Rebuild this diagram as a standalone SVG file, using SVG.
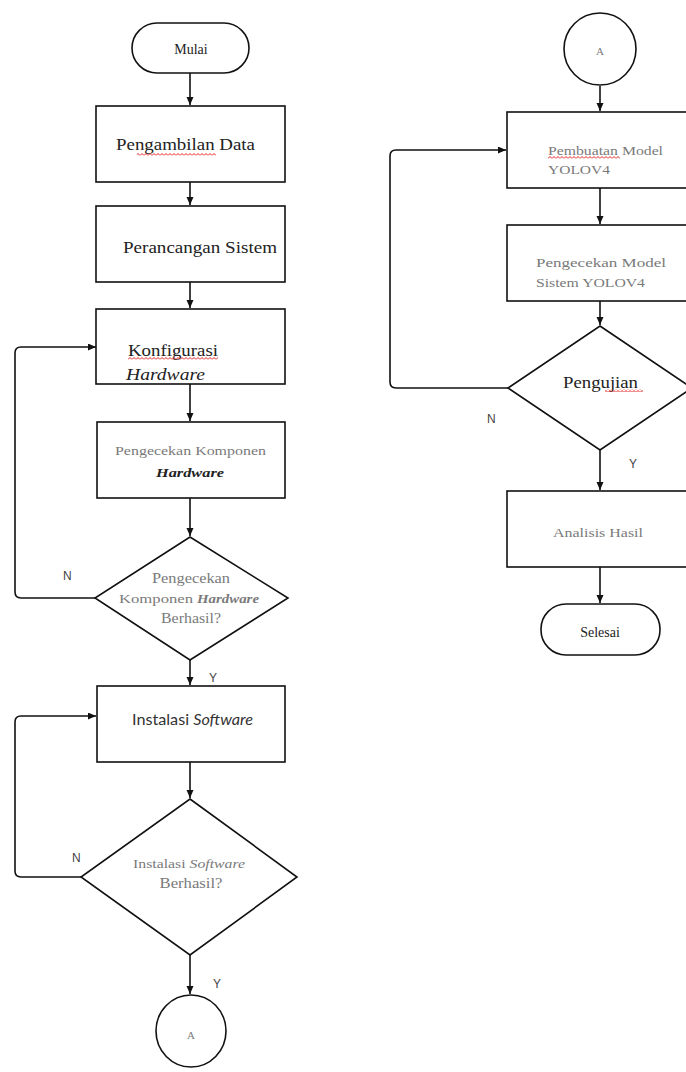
<svg xmlns="http://www.w3.org/2000/svg" width="686" height="1072" viewBox="0 0 686 1072">
<style>
.shape{fill:#fff;stroke:#111;stroke-width:1.6}
.conn{fill:none;stroke:#111;stroke-width:1.6}
.t{font-family:"Liberation Serif",serif;fill:#222}
.g{font-family:"Liberation Serif",serif;fill:#7a7a7a}
.s{font-family:"Lato","Liberation Sans",sans-serif;fill:#333}
.lbl{font-family:"Liberation Sans",sans-serif;font-size:12px;fill:#444}
</style>
<defs>
<marker id="ah" markerUnits="userSpaceOnUse" markerWidth="9" markerHeight="8" refX="8" refY="3.5" orient="auto">
<path d="M0,0 L8,3.5 L0,7 z" fill="#111"/>
</marker>
<pattern id="sq" width="4" height="3" patternUnits="userSpaceOnUse">
<path d="M0,2.5 L2,0.5 L4,2.5" fill="none" stroke="#e02020" stroke-width="1"/>
</pattern>
</defs>

<g id="connectors">
<path class="conn" d="M190,73 V105" marker-end="url(#ah)"/>
<path class="conn" d="M190,182 V205" marker-end="url(#ah)"/>
<path class="conn" d="M190,282 V308" marker-end="url(#ah)"/>
<path class="conn" d="M190,384 V421" marker-end="url(#ah)"/>
<path class="conn" d="M190,498 V536" marker-end="url(#ah)"/>
<path class="conn" d="M95,598 H21 Q15,598 15,592 V353 Q15,347 21,347 H96" marker-end="url(#ah)"/>
<path class="conn" d="M190,660 V685" marker-end="url(#ah)"/>
<path class="conn" d="M190,762 V798" marker-end="url(#ah)"/>
<path class="conn" d="M81,877 H21 Q15,877 15,871 V722 Q15,716 21,716 H96" marker-end="url(#ah)"/>
<path class="conn" d="M190,955 V994" marker-end="url(#ah)"/>
<path class="conn" d="M600,86 V111" marker-end="url(#ah)"/>
<path class="conn" d="M600,188 V224" marker-end="url(#ah)"/>
<path class="conn" d="M600,301 V325" marker-end="url(#ah)"/>
<path class="conn" d="M508,388 H396 Q390,388 390,382 V156 Q390,150 396,150 H506" marker-end="url(#ah)"/>
<path class="conn" d="M600,450 V490" marker-end="url(#ah)"/>
<path class="conn" d="M600,567 V603" marker-end="url(#ah)"/>
<text class="lbl" x="63" y="580">N</text>
<text class="lbl" x="209" y="682">Y</text>
<text class="lbl" x="72" y="862">N</text>
<text class="lbl" x="213" y="988">Y</text>
<text class="lbl" x="487" y="423">N</text>
<text class="lbl" x="629" y="468">Y</text>
</g>

<g id="mulai">
<rect class="shape" x="132" y="23" width="117" height="50" rx="25"/>
<text class="t" x="191" y="54" font-size="14" text-anchor="middle">Mulai</text>
</g>

<g id="pengambilan">
<rect class="shape" x="96" y="106" width="189" height="76"/>
<text class="t" x="116" y="150" font-size="17" textLength="139" lengthAdjust="spacingAndGlyphs">Pengambilan Data</text>
<rect x="137" y="153" width="79" height="3" fill="url(#sq)"/>
</g>

<g id="perancangan">
<rect class="shape" x="96" y="206" width="189" height="76"/>
<text class="t" x="123" y="253" font-size="17" textLength="154" lengthAdjust="spacingAndGlyphs">Perancangan Sistem</text>
</g>

<g id="konfigurasi">
<rect class="shape" x="96" y="309" width="189" height="75"/>
<text class="t" x="128" y="356" font-size="17" textLength="90" lengthAdjust="spacingAndGlyphs">Konfigurasi</text>
<rect x="128" y="357" width="90" height="3" fill="url(#sq)"/>
<text class="t" x="126" y="380" font-size="16" font-style="italic" textLength="79" lengthAdjust="spacingAndGlyphs">Hardware</text>
</g>

<g id="pengecekan-komponen">
<rect class="shape" x="97" y="422" width="188" height="76"/>
<text class="g" x="115" y="455" font-size="12" textLength="151" lengthAdjust="spacingAndGlyphs">Pengecekan Komponen</text>
<text class="t" x="156" y="477" font-size="12" font-style="italic" font-weight="bold" textLength="68" lengthAdjust="spacingAndGlyphs">Hardware</text>
</g>

<g id="cek-hardware">
<path class="shape" d="M190,537 L288,598 L190,660 L95,598 Z"/>
<text class="g" x="191" y="583" font-size="14" text-anchor="middle" textLength="78" lengthAdjust="spacingAndGlyphs">Pengecekan</text>
<text class="g" x="119" y="603" font-size="12" textLength="74" lengthAdjust="spacingAndGlyphs">Komponen</text>
<text class="g" x="197" y="603" font-size="12" font-style="italic" font-weight="bold" textLength="62" lengthAdjust="spacingAndGlyphs">Hardware</text>
<text class="g" x="191" y="623" font-size="14" text-anchor="middle" textLength="60" lengthAdjust="spacingAndGlyphs">Berhasil?</text>
</g>

<g id="instalasi">
<rect class="shape" x="97" y="686" width="188" height="76"/>
<text class="s" x="132" y="725" font-size="15" textLength="121" lengthAdjust="spacingAndGlyphs">Instalasi <tspan font-style="italic">Software</tspan></text>
</g>

<g id="cek-software">
<path class="shape" d="M190,799 L297,877 L190,955 L81,877 Z"/>
<text class="g" x="133" y="868" font-size="13" textLength="112" lengthAdjust="spacingAndGlyphs">Instalasi <tspan font-style="italic">Software</tspan></text>
<text class="g" x="191" y="888" font-size="14" text-anchor="middle" textLength="63" lengthAdjust="spacingAndGlyphs">Berhasil?</text>
</g>

<g id="konektor-a1">
<ellipse class="shape" cx="191" cy="1031" rx="35" ry="36"/>
<text class="g" x="191" y="1039" font-size="11" text-anchor="middle">A</text>
</g>

<g id="konektor-a2">
<circle class="shape" cx="600" cy="49" r="36"/>
<text class="g" x="600" y="55" font-size="11" text-anchor="middle">A</text>
</g>

<g id="pembuatan">
<rect class="shape" x="507" y="112" width="186" height="76"/>
<text class="g" x="548" y="155" font-size="12" textLength="115" lengthAdjust="spacingAndGlyphs">Pembuatan Model</text>
<rect x="548" y="156" width="72" height="3" fill="url(#sq)"/>
<text class="g" x="548" y="174" font-size="12" textLength="62" lengthAdjust="spacingAndGlyphs">YOLOV4</text>
</g>

<g id="pengecekan-model">
<rect class="shape" x="507" y="225" width="186" height="76"/>
<text class="g" x="536" y="267" font-size="12" textLength="130" lengthAdjust="spacingAndGlyphs">Pengecekan Model</text>
<text class="g" x="536" y="287" font-size="12" textLength="109" lengthAdjust="spacingAndGlyphs">Sistem YOLOV4</text>
</g>

<g id="pengujian">
<path class="shape" d="M600,326 L692,388 L600,450 L508,388 Z"/>
<text class="t" x="563" y="388" font-size="16" textLength="75" lengthAdjust="spacingAndGlyphs">Pengujian</text>
<rect x="605" y="389" width="38" height="3" fill="url(#sq)"/>
</g>

<g id="analisis">
<rect class="shape" x="507" y="491" width="186" height="76"/>
<text class="g" x="553" y="537" font-size="12" textLength="90" lengthAdjust="spacingAndGlyphs">Analisis Hasil</text>
</g>

<g id="selesai">
<rect class="shape" x="541" y="604" width="119" height="51" rx="25"/>
<text class="t" x="600" y="637" font-size="14" text-anchor="middle">Selesai</text>
</g>
</svg>
